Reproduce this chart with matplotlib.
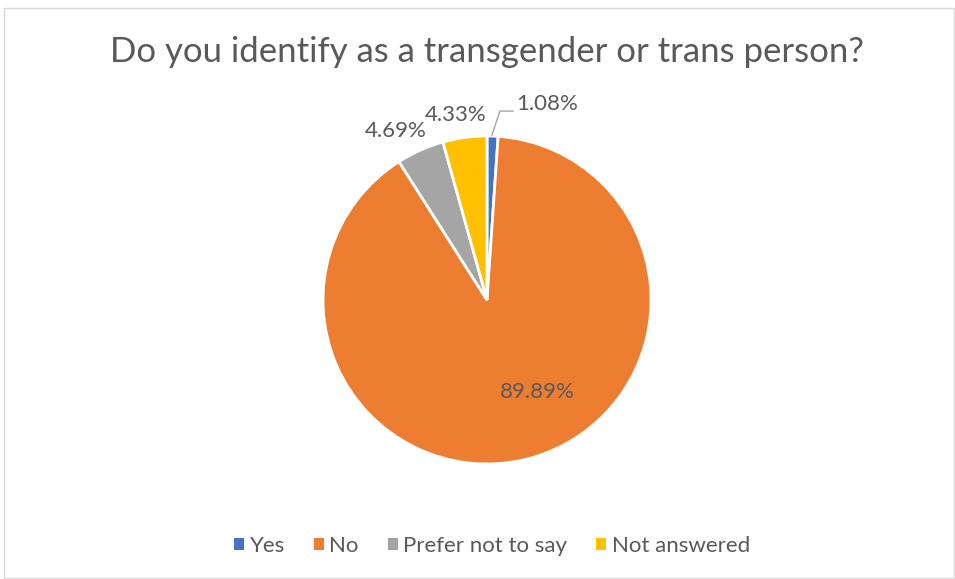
import matplotlib
matplotlib.use("Agg")
import matplotlib.pyplot as plt
from matplotlib.patches import Rectangle, Patch
import numpy as np

categories = ["Yes", "No", "Prefer not to say", "Not answered"]
values = [1.08, 89.89, 4.69, 4.33]
labels = ["1.08%", "89.89%", "4.69%", "4.33%"]
colors = ["#4472C4", "#ED7D31", "#A5A5A5", "#FFC000"]
title = "Do you identify as a transgender or trans person?"

plt.rcParams['font.family'] = ['Lato', 'DejaVu Sans']
txt = "#595959"

W, H = 955, 579
fig = plt.figure(figsize=(W / 100, H / 100), dpi=100)
fig.patch.set_facecolor("white")

# border
fig.add_artist(Rectangle((4 / W, 1 / H), (W - 5) / W, (H - 9) / H,
                         transform=fig.transFigure, fill=False,
                         edgecolor="#D9D9D9", linewidth=1))

cx, cy, r = 487, 300, 164
ax = fig.add_axes([(cx - r) / W, (H - cy - r) / H, 2 * r / W, 2 * r / H])
wedges, _ = ax.pie(values, colors=colors, startangle=90, counterclock=False,
                   radius=1, wedgeprops=dict(edgecolor="white", linewidth=2))
ax.set_xlim(-1, 1)
ax.set_ylim(-1, 1)
ax.set_aspect("equal")
ax.axis("off")

label_pos = [(0.366, 1.195), (0.305, -0.56), (-0.555, 1.03), (-0.189, 1.128)]
for (x, y), lab in zip(label_pos, labels):
    ax.text(x, y, lab, ha="center", va="center", fontsize=16, color=txt,
            clip_on=False)

# leader line for the small slice
ax.plot([0.030, 0.079, 0.159], [1.006, 1.152, 1.152], color="#A6A6A6",
        linewidth=1, clip_on=False)

fig.text(487 / W, 1 - 52 / H, title, ha="center", va="center",
         fontsize=25, color=txt)

handles = [Patch(facecolor=c, edgecolor="none") for c in colors]
fig.legend(handles, categories, loc="center", bbox_to_anchor=(492 / W, 1 - 546 / H),
           ncol=4, frameon=False, fontsize=16, labelcolor=txt,
           handlelength=0.45, handleheight=0.45, handletextpad=0.25,
           columnspacing=1.3)

fig.savefig("out.png", dpi=100)
